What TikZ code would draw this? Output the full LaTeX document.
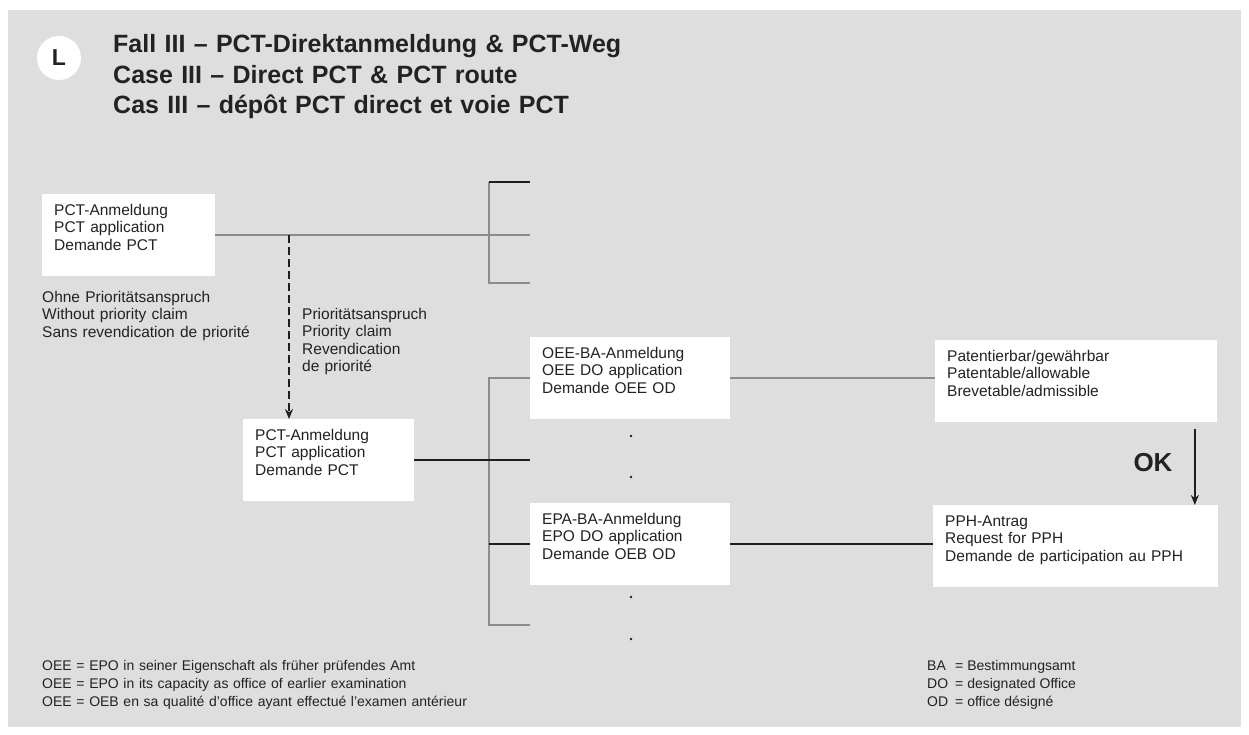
\documentclass[tikz,border=0pt]{standalone}
\usepackage{fontspec}
\setmainfont{Liberation Sans}
\usetikzlibrary{positioning,arrows.meta,calc}
\definecolor{panelgray}{HTML}{DEDEDE}
\definecolor{linegray}{HTML}{8C8C8C}
\definecolor{linedark}{HTML}{1E1E1E}
\definecolor{textdark}{HTML}{222222}

\begin{document}
\begin{tikzpicture}[x=1pt, y=-1pt,
    every node/.style={font=\fontsize{15.5}{17.5}\selectfont, text=textdark},
    stepbox/.style={fill=white, anchor=north west, align=left,
      inner xsep=12pt, inner ysep=6pt, text height=15pt, text depth=55pt},
    notetext/.style={anchor=base west, align=left, inner sep=0pt},
    darkline/.style={draw=linedark, line width=1.7pt},
    greyline/.style={draw=linegray, line width=1.7pt}]
  \useasboundingbox (0,0) rectangle (1249,735);
  \fill[panelgray] (8,10) rectangle (1241,727);

  % heading
  \node[circle, fill=white, minimum size=44pt, inner sep=0pt,
        font=\fontsize{23}{23}\selectfont\bfseries] (badge) at (59,58) {L};
  \node[notetext, text width=700pt,
        font=\fontsize{25}{30.5}\selectfont\bfseries] (title) at (113,53)
        {Fall III -- PCT-Direktanmeldung \& PCT-Weg\\
         Case III -- Direct PCT \& PCT route\\
         Cas III -- dépôt PCT direct et voie PCT};

  % boxes
  \node[stepbox, text width=149pt] (pctA) at (42,194)
        {PCT-Anmeldung\\ PCT application\\ Demande PCT};
  \node[stepbox, text width=147pt] (pctB) at (243,419)
        {PCT-Anmeldung\\ PCT application\\ Demande PCT};
  \node[stepbox, text width=176pt] (oee) at (530,337)
        {OEE-BA-Anmeldung\\ OEE DO application\\ Demande OEE OD};
  \node[stepbox, text width=176pt] (epa) at (530,503)
        {EPA-BA-Anmeldung\\ EPO DO application\\ Demande OEB OD};
  \node[stepbox, text width=258pt] (patent) at (935,340)
        {Patentierbar/gewährbar\\ Patentable/allowable\\ Brevetable/admissible};
  \node[stepbox, text width=261pt] (pph) at (933,505)
        {PPH-Antrag\\ Request for PPH\\ Demande de participation au PPH};

  % side notes
  \node[notetext, text width=240pt] (nopri) at (42,302)
        {Ohne Prioritätsanspruch\\ Without priority claim\\ Sans revendication de priorité};
  \node[notetext, text width=160pt] (withpri) at (302,319)
        {Prioritätsanspruch\\ Priority claim\\ Revendication\\ de priorité};
  \node[font=\fontsize{26}{26}\selectfont\bfseries] (ok) at (1153,463) {OK};

  % footnotes
  \node[notetext, text width=560pt, font=\fontsize{14}{18}\selectfont] (keyleft) at (42,670)
        {OEE = EPO in seiner Eigenschaft als früher prüfendes Amt\\
         OEE = EPO in its capacity as office of earlier examination\\
         OEE = OEB en sa qualité d'office ayant effectué l'examen antérieur};
  \node[notetext, font=\fontsize{14}{18}\selectfont] (keyright) at (927,670)
        {\begin{tabular}[t]{@{}l@{\enspace= }l@{}}
         BA & Bestimmungsamt\\ DO & designated Office\\ OD & office désigné
         \end{tabular}};

  % bracket coordinates
  \coordinate (split) at (289,235);
  \coordinate (brA top) at (489,182);
  \coordinate (brA bot) at (489,283);
  \coordinate (brA end1) at (530,182);
  \coordinate (brA end2) at (530,235);
  \coordinate (brA end3) at (530,283);
  \coordinate (brB top) at (489,378);
  \coordinate (brB bot) at (489,625);
  \coordinate (brB end) at (530,625);

  % connectors
  \draw[greyline] (pctA.east |- split) -- (brA end2);
  \draw[greyline] (brA end3) -- (brA bot) -- (brA top);
  \draw[darkline] (brA top) -- (brA end1);
  \draw[linedark, line width=1.5pt, dash pattern=on 8pt off 4pt,
        -{Stealth[length=10pt, width=8pt]}] (split) -- (split |- pctB.north);

  \draw[greyline] (brB end) -- (brB bot) -- (brB top) -- (brB top -| oee.west);
  \draw[darkline] (pctB.east) -- (pctB.east -| oee.west);
  \draw[darkline] (epa.west -| brB top) -- (epa.west);
  \draw[greyline] (oee.east) -- (oee.east -| patent.west);
  \draw[darkline] (epa.east) -- (epa.east -| pph.west);
  \draw[linedark, line width=1.5pt, shorten <=7pt,
        -{Stealth[length=10pt, width=8pt]}] ($(patent.south west)!0.92!(patent.south east)$)
        coordinate (okstart) -- (okstart |- pph.north);

  % omission dots
  \foreach \y in {436,477,597,639}
    \fill[linedark] (631,\y) circle (1.4pt);
\end{tikzpicture}
\end{document}
